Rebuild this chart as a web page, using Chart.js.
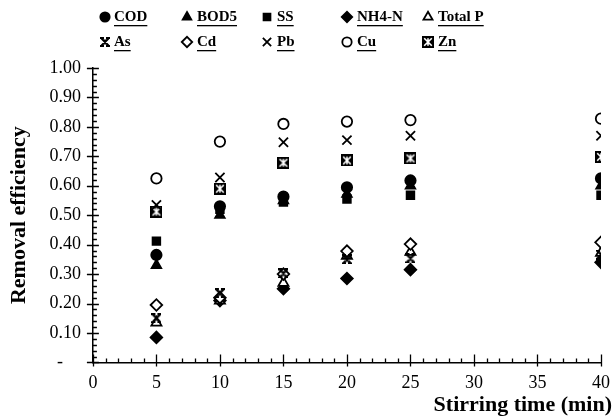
<!DOCTYPE html>
<html>
<head>
<meta charset="utf-8">
<script src="https://cdn.jsdelivr.net/npm/chart.js@4/dist/chart.umd.min.js"></script>
<style>
  html, body { margin: 0; padding: 0; background: #fff; }
  #wrap { width: 613px; height: 420px; position: relative; }
</style>
</head>
<body>
<div id="wrap"><canvas id="chart"></canvas></div>
<script>
// Stirring time (min)
const times = [5, 10, 15, 20, 25, 40];

// removal efficiency per parameter
const cod    = [0.365, 0.530, 0.563, 0.595, 0.618, 0.625];
const bod5   = [0.330, 0.500, 0.550, 0.572, 0.600, 0.600];
const ss     = [0.412, 0.520, 0.545, 0.555, 0.568, 0.568];
const nh4n   = [0.085, 0.210, 0.250, 0.285, 0.315, 0.340];
const totalP = [0.135, 0.210, 0.270, 0.362, 0.375, 0.372];
const as     = [0.150, 0.235, 0.302, 0.350, 0.353, 0.366];
const cd     = [0.195, 0.220, 0.300, 0.378, 0.402, 0.408];
const pb     = [0.535, 0.628, 0.748, 0.755, 0.770, 0.770];
const cu     = [0.625, 0.750, 0.810, 0.818, 0.823, 0.828];
const zn     = [0.512, 0.590, 0.678, 0.686, 0.693, 0.698];

const seriesLabels = ['COD', 'BOD5', 'SS', 'NH4-N', 'Total P', 'As', 'Cd', 'Pb', 'Cu', 'Zn'];
const seriesValues = [cod, bod5, ss, nh4n, totalP, as, cd, pb, cu, zn];

const yTicks = [0, 0.1, 0.2, 0.3, 0.4, 0.5, 0.6, 0.7, 0.8, 0.9, 1.0];
const xTicks = [0, 5, 10, 15, 20, 25, 30, 35, 40];

const FONT = "'Liberation Serif', 'Times New Roman', serif";

// custom marker for As (bold x with bars)
function makeAs(size) {
  const c = document.createElement('canvas');
  c.width = size; c.height = size;
  const g = c.getContext('2d');
  g.strokeStyle = '#000';
  g.lineWidth = 2;
  const m = 1.5;
  g.beginPath();
  g.moveTo(m, m); g.lineTo(size - m, size - m);
  g.moveTo(size - m, m); g.lineTo(m, size - m);
  g.moveTo(size / 2, m + 1); g.lineTo(size / 2, size - m - 1);
  g.moveTo(0, 1); g.lineTo(size * 0.4, 1);
  g.moveTo(size * 0.6, 1); g.lineTo(size, 1);
  g.moveTo(0, size - 1); g.lineTo(size * 0.4, size - 1);
  g.moveTo(size * 0.6, size - 1); g.lineTo(size, size - 1);
  g.stroke();
  return c;
}

// custom marker for Zn (black box with white star)
function makeZn(size) {
  const c = document.createElement('canvas');
  c.width = size; c.height = size;
  const g = c.getContext('2d');
  g.fillStyle = '#000';
  g.fillRect(0, 0, size, size);
  g.strokeStyle = '#fff';
  g.lineWidth = 1.6;
  const m = 2.2;
  g.beginPath();
  g.moveTo(m, m); g.lineTo(size - m, size - m);
  g.moveTo(size - m, m); g.lineTo(m, size - m);
  g.moveTo(size / 2, m); g.lineTo(size / 2, size - m);
  g.stroke();
  return c;
}

const asImg = makeAs(10);
const znImg = makeZn(12);

const styles = [
  { pointStyle: 'circle',   radius: 5.2, fill: '#000' },
  { pointStyle: 'triangle', radius: 5.5, fill: '#000' },
  { pointStyle: 'rect',     radius: 5.4, fill: '#000' },
  { pointStyle: 'rectRot',  radius: 5.8, fill: '#000' },
  { pointStyle: 'triangle', radius: 5.8, fill: '#fff' },
  { pointStyle: asImg,      radius: 5,   fill: '#000' },
  { pointStyle: 'rectRot',  radius: 5.8, fill: '#fff' },
  { pointStyle: 'crossRot', radius: 6.5, fill: '#000' },
  { pointStyle: 'circle',   radius: 5.2, fill: '#fff' },
  { pointStyle: znImg,      radius: 6,   fill: '#000' }
];

// draw order: lower numbers end up on top
const drawOrder = [2, 3, 4, 6, 5, 1, 3, 0, 2, 1];

const datasets = seriesLabels.map((label, i) => ({
  label: label,
  data: times.map((t, j) => ({ x: t, y: seriesValues[i][j] })),
  order: drawOrder[i],
  pointStyle: styles[i].pointStyle,
  pointRadius: styles[i].radius,
  pointHoverRadius: styles[i].radius,
  pointBackgroundColor: styles[i].fill,
  pointBorderColor: '#000',
  pointBorderWidth: 1.8,
  showLine: false
}));

// legend: 2 rows x 5 columns, underlined bold labels
const legendPlugin = {
  id: 'gridLegend',
  afterDraw(chart) {
    const ctx = chart.ctx;
    const markX = [105, 187, 267, 347, 428];
    const textX = [114, 197, 277, 357, 438];
    const rowY = [17, 42];
    ctx.save();
    ctx.font = 'bold 15px ' + FONT;
    ctx.textBaseline = 'middle';
    ctx.textAlign = 'left';
    seriesLabels.forEach((label, i) => {
      const col = i % 5, row = Math.floor(i / 5);
      const st = styles[i];
      const x = markX[col], y = rowY[row];
      ctx.fillStyle = st.fill;
      ctx.strokeStyle = '#000';
      ctx.lineWidth = 1.8;
      Chart.helpers.drawPoint(ctx, {
        pointStyle: st.pointStyle,
        radius: st.radius * 0.9,
        rotation: 0,
        borderWidth: 1.8
      }, x, y);
      ctx.fillStyle = '#000';
      ctx.fillText(label, textX[col], y);
      const w = ctx.measureText(label).width;
      ctx.fillRect(textX[col], y + 8, w, 1.3);
    });
    ctx.restore();
  }
};

// tick marks crossing the axes, minor ticks inside
const tickPlugin = {
  id: 'axisTicks',
  afterDraw(chart) {
    const ctx = chart.ctx;
    const xs = chart.scales.x, ys = chart.scales.y;
    const ax = xs.left, ay = ys.bottom;
    ctx.save();
    ctx.strokeStyle = '#000';
    ctx.lineWidth = 1.3;
    ctx.beginPath();
    for (let v = 0; v <= 100; v += 2) {
      const py = Math.round(ys.getPixelForValue(v / 100)) + 0.5;
      if (v % 10 === 0) { ctx.moveTo(ax - 6, py); ctx.lineTo(ax + 6, py); }
      else { ctx.moveTo(ax, py); ctx.lineTo(ax + 4, py); }
    }
    for (let v = 0; v <= 40; v += 1) {
      const px = Math.round(xs.getPixelForValue(v)) + 0.5;
      if (v % 5 === 0) { ctx.moveTo(px, ay - 8); ctx.lineTo(px, ay + 4); }
      else { ctx.moveTo(px, ay - 4); ctx.lineTo(px, ay); }
    }
    ctx.stroke();
    // x axis title
    ctx.fillStyle = '#000';
    ctx.font = 'bold 22px ' + FONT;
    ctx.textAlign = 'right';
    ctx.textBaseline = 'middle';
    ctx.fillText('Stirring time (min)', 612, 405);
    ctx.restore();
  }
};

new Chart(document.getElementById('chart'), {
  type: 'scatter',
  data: { datasets: datasets },
  options: {
    responsive: true,
    maintainAspectRatio: false,
    animation: false,
    layout: { padding: { top: 68, right: 12, bottom: 16, left: 6 } },
    plugins: {
      legend: { display: false },
      tooltip: { enabled: false }
    },
    scales: {
      x: {
        type: 'linear',
        min: 0,
        max: 40,
        afterBuildTicks: (axis) => { axis.ticks = xTicks.map(v => ({ value: v })); },
        afterFit: (axis) => { axis.paddingRight = 0; },
        grid: { display: false, drawTicks: false },
        border: { display: true, color: '#000', width: 1.5 },
        ticks: {
          color: '#000',
          font: { family: FONT, size: 18 },
          padding: 10,
          maxRotation: 0
        }
      },
      y: {
        min: 0,
        max: 1,
        afterBuildTicks: (axis) => { axis.ticks = yTicks.map(v => ({ value: v })); },
        grid: { display: false, drawTicks: false },
        border: { display: true, color: '#000', width: 1.5 },
        ticks: {
          color: '#000',
          font: { family: FONT, size: 18 },
          padding: 12,
          callback: (v) => (v === 0 ? '-    ' : v.toFixed(2))
        },
        title: {
          display: true,
          text: 'Removal efficiency',
          color: '#000',
          font: { family: FONT, size: 22, weight: 'bold' },
          padding: { top: 0, bottom: 5 }
        }
      }
    }
  },
  plugins: [legendPlugin, tickPlugin]
});
</script>
</body>
</html>
